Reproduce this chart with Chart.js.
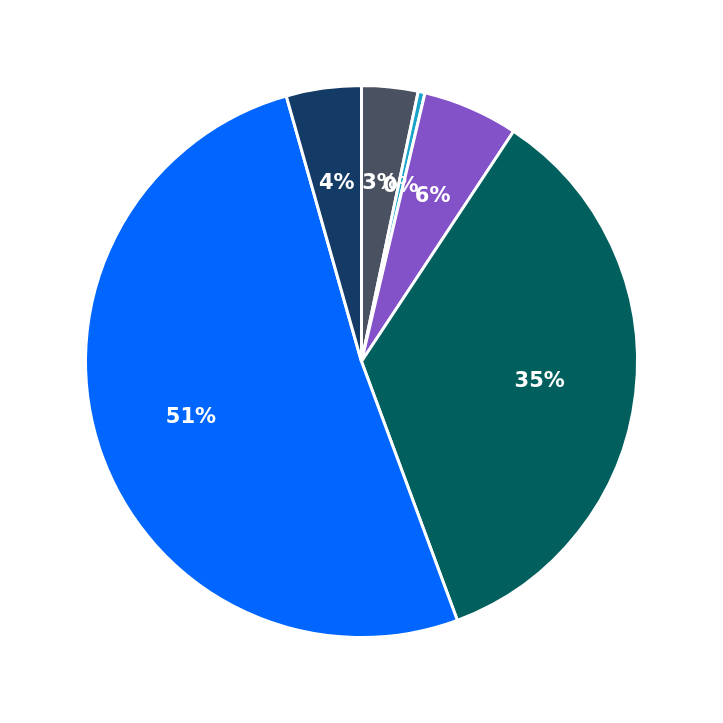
<!DOCTYPE html>
<html>
<head>
<meta charset="utf-8">
<script src="https://cdn.jsdelivr.net/npm/chart.js@4"></script>
<style>
  html, body { margin: 0; padding: 0; background: #fff; }
  #wrap { width: 723px; height: 723px; }
</style>
</head>
<body>
<div id="wrap"><canvas id="c"></canvas></div>
<script>
const labels = ['A', 'B', 'C', 'D', 'E', 'F'];
const values = [3.3, 0.4, 5.6, 35.1, 51.3, 4.4];
const colors = ['#4a5160', '#1aa3c8', '#8352c8', '#015f5d', '#0066ff', '#143a66'];

// draws percentage text inside each slice
const sliceLabels = {
  id: 'sliceLabels',
  afterDatasetsDraw(chart) {
    const ctx = chart.ctx;
    const meta = chart.getDatasetMeta(0);
    const total = values.reduce((a, b) => a + b, 0);
    ctx.save();
    ctx.fillStyle = '#fff';
    ctx.font = 'bold 21px "DejaVu Sans"';
    ctx.textAlign = 'center';
    ctx.textBaseline = 'middle';
    meta.data.forEach((arc, i) => {
      const mid = (arc.startAngle + arc.endAngle) / 2;
      const r = arc.outerRadius * 0.65;
      const x = arc.x + Math.cos(mid) * r;
      const y = arc.y + Math.sin(mid) * r;
      ctx.fillText(Math.round(values[i] / total * 100) + '%', x, y);
    });
    ctx.restore();
  }
};

new Chart(document.getElementById('c'), {
  type: 'pie',
  data: {
    labels: labels,
    datasets: [{
      data: values,
      backgroundColor: colors,
      borderColor: '#fff',
      borderWidth: 3
    }]
  },
  options: {
    responsive: true,
    maintainAspectRatio: false,
    animation: false,
    layout: { padding: 84 },
    plugins: { legend: { display: false }, tooltip: { enabled: false } }
  },
  plugins: [sliceLabels]
});
</script>
</body>
</html>
